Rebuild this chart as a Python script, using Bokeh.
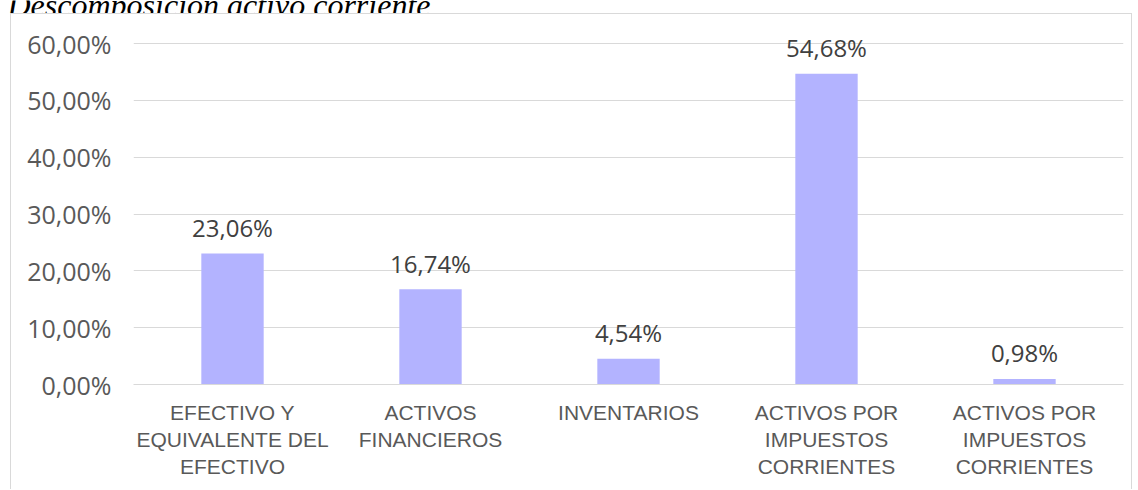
from bokeh.plotting import figure
from bokeh.layouts import column
from bokeh.models import ColumnDataSource, FixedTicker, Range1d, Label, LabelSet
from bokeh.core.properties import value
from bokeh.embed import file_html
from bokeh.resources import INLINE

categories = ["EFECTIVO Y\nEQUIVALENTE DEL\nEFECTIVO", "ACTIVOS\nFINANCIEROS", "INVENTARIOS",
              "ACTIVOS POR\nIMPUESTOS\nCORRIENTES", "ACTIVOS POR\nIMPUESTOS\nCORRIENTES"]
values = [23.06, 16.74, 4.54, 54.68, 0.98]
value_labels = ["23,06%", "16,74%", "4,54%", "54,68%", "0,98%"]
y_ticks = [0, 10, 20, 30, 40, 50, 60]
y_tick_labels = ["0,00%", "10,00%", "20,00%", "30,00%", "40,00%", "50,00%", "60,00%"]
title_text = "Descomposición activo corriente"

# ---- title strip (text cut at the top edge, as in the reference) ----
TH = 13
tfig = figure(width=700, height=TH, output_backend="svg", toolbar_location=None,
              x_axis_type=None, y_axis_type=None, min_border=0,
              x_range=Range1d(0, 1), y_range=Range1d(0, 1))
tfig.frame_align = False
tfig.outline_line_color = None
tfig.xgrid.visible = False
tfig.ygrid.visible = False
tfig.add_layout(Label(x=7, y=TH - 4.5, x_units="screen", y_units="screen", text=title_text,
                      text_font="Liberation Serif", text_font_style="italic",
                      text_font_size="32px", text_color="black", text_baseline="alphabetic"))

# ---- main chart ----
W, H = 1122, 476
FRAME_TOP_PX = 29          # pixel distance from canvas top to the 60% line
PX_PER_UNIT = 341 / 60
y_top = 60 + FRAME_TOP_PX / PX_PER_UNIT

x_pos = list(range(len(categories)))
src = ColumnDataSource(dict(x=x_pos, top=values, lab=value_labels))

p = figure(width=W, height=H, output_backend="svg", toolbar_location=None,
           x_range=Range1d(-0.5, len(categories) - 0.5), y_range=Range1d(0, y_top),
           min_border_left=122, min_border_right=10, min_border_top=0, min_border_bottom=106)
p.frame_align = False
p.styles = {"margin-left": "10px", "border-top": "1px solid #d9d9d9",
            "border-left": "1px solid #d9d9d9", "border-right": "1px solid #d9d9d9"}
p.outline_line_color = None
p.background_fill_color = "white"
p.border_fill_color = "white"

p.vbar(x="x", top="top", width=0.315, source=src, fill_color="#b3b3ff", line_color=None)
p.add_layout(LabelSet(x="x", y="top", text="lab", source=src, text_align="center",
                      text_baseline="middle", y_offset=26, text_font=value("Open Sans"),
                      text_font_size="24px", text_color="#404040"))

p.xgrid.grid_line_color = None
p.ygrid.grid_line_color = "#d9d9d9"
p.ygrid.ticker = FixedTicker(ticks=y_ticks)

p.yaxis.ticker = FixedTicker(ticks=y_ticks)
p.yaxis.major_label_overrides = {t: l for t, l in zip(y_ticks, y_tick_labels)}
p.yaxis.axis_line_color = None
p.yaxis.major_tick_line_color = None
p.yaxis.minor_tick_line_color = None
p.yaxis.major_label_standoff = 16
p.yaxis.major_label_text_font = "Open Sans"
p.yaxis.major_label_text_font_size = "25px"
p.yaxis.major_label_text_color = "#595959"

p.xaxis.ticker = FixedTicker(ticks=x_pos)
p.xaxis.major_label_overrides = {i: c for i, c in zip(x_pos, categories)}
p.xaxis.axis_line_color = "#d9d9d9"
p.xaxis.major_tick_line_color = None
p.xaxis.minor_tick_line_color = None
p.xaxis.major_label_standoff = 10
p.xaxis.major_label_text_font = "Liberation Sans"
p.xaxis.major_label_text_font_size = "21px"
p.xaxis.major_label_text_line_height = 1.18
p.xaxis.major_label_text_color = "#595959"

layout = column(tfig, p, spacing=0)
open("out.html", "w").write(file_html(layout, INLINE))
